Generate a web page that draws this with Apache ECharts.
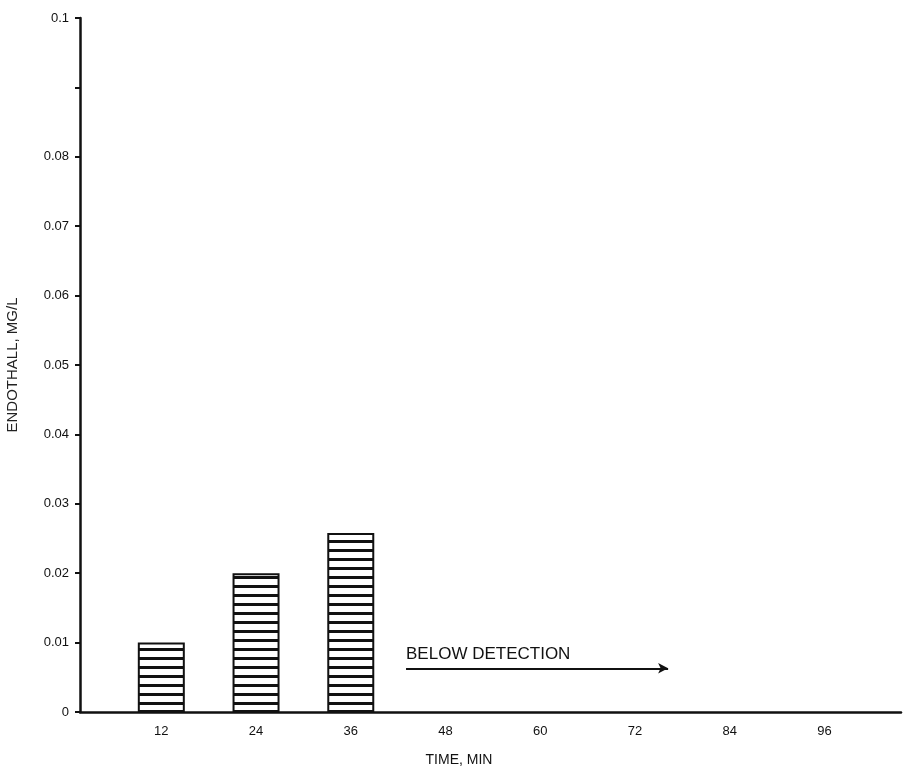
<!DOCTYPE html>
<html>
<head>
<meta charset="utf-8">
<script src="https://cdn.jsdelivr.net/npm/echarts@6/dist/echarts.min.js"></script>
<style>html,body{margin:0;padding:0;background:#fff}#c{width:903px;height:768px}</style>
</head>
<body>
<div id="c"></div>
<script>
// Data
const times = [12, 24, 36];
const endothall = [0.010, 0.020, 0.0258];
const xTickValues = [12, 24, 36, 48, 60, 72, 84, 96];
const yTickValues = [0, 0.01, 0.02, 0.03, 0.04, 0.05, 0.06, 0.07, 0.08, 0.09, 0.1];
const yLabelValues = [0, 0.01, 0.02, 0.03, 0.04, 0.05, 0.06, 0.07, 0.08, 0.1];
const belowStart = 43, belowEnd = 76.2, belowLevel = 0.0063;

// stripe pattern
const pc = document.createElement('canvas');
pc.width = 8; pc.height = 9;
const g = pc.getContext('2d');
g.fillStyle = '#fff'; g.fillRect(0, 0, 8, 9);
g.fillStyle = '#111'; g.fillRect(0, 0, 8, 3);

const chart = echarts.init(document.getElementById('c'));
const font = '"Liberation Sans", Arial, sans-serif';
chart.setOption({
  animation: false,
  backgroundColor: '#fff',
  grid: {left: 80, top: 18, right: 2, bottom: 56, containLabel: false, outerBoundsMode: 'none'},
  xAxis: {
    type: 'value', min: 1.7, max: 105.7,
    name: 'TIME, MIN', nameLocation: 'middle', nameGap: 41,
    nameTextStyle: {color: '#111', fontFamily: font, fontSize: 14, padding: [0, 63, 0, 0]},
    axisLine: {show: true, onZero: false, lineStyle: {color: '#111', width: 2.5}},
    axisTick: {show: false},
    splitLine: {show: false},
    axisLabel: {customValues: xTickValues, color: '#111', fontFamily: font, fontSize: 13, margin: 13}
  },
  yAxis: {
    type: 'value', min: 0, max: 0.1,
    name: 'ENDOTHALL, MG/L', nameLocation: 'middle', nameGap: 60,
    nameTextStyle: {color: '#222', fontFamily: font, fontSize: 15},
    axisLine: {show: true, lineStyle: {color: '#111', width: 2.5}},
    axisTick: {show: true, customValues: yTickValues, length: 5, lineStyle: {color: '#111', width: 2}},
    splitLine: {show: false},
    axisLabel: {customValues: yLabelValues, color: '#111', fontFamily: font, fontSize: 13, margin: 11,
      formatter: v => v === 0 ? '0' : String(+v.toFixed(2))}
  },
  series: [{
    type: 'bar',
    data: times.map((t, i) => [t, endothall[i]]),
    barWidth: 47,
    itemStyle: {color: {image: pc, repeat: 'repeat'}, borderColor: '#111', borderWidth: 2},
    markLine: {
      silent: true,
      symbol: ['none', 'arrow'], symbolSize: [8, 10],
      lineStyle: {color: '#111', width: 2, type: 'solid'},
      label: {show: true, position: 'insideStartTop', formatter: 'BELOW DETECTION', color: '#111',
        fontFamily: font, fontSize: 17, distance: [0, 5]},
      data: [[{coord: [belowStart, belowLevel]}, {coord: [belowEnd, belowLevel]}]]
    }
  }]
});
</script>
</body>
</html>
